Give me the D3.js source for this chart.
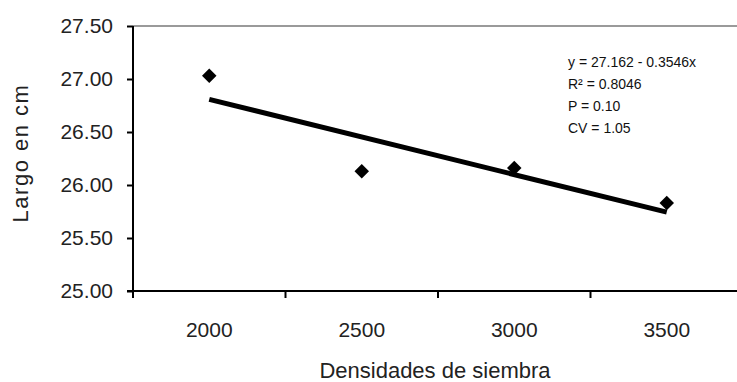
<!DOCTYPE html>
<html>
<head>
<meta charset="utf-8">
<script src="https://cdn.jsdelivr.net/npm/d3@7"></script>
<style>
  html, body { margin: 0; padding: 0; background: #fff; }
  svg { display: block; font-family: "Liberation Sans", Arial, sans-serif; }
</style>
</head>
<body>
<svg id="chart" width="737" height="382"></svg>
<script>
// Planting density categories and measured length (cm)
const densidades = ["2000", "2500", "3000", "3500"];
const largo = [27.03, 26.13, 26.16, 25.83];

// Linear trend: y = a + b·x, with x = 1..4 (category index)
const trendIntercept = 27.162;
const trendSlope = -0.3546;

const yTicks = [25.0, 25.5, 26.0, 26.5, 27.0, 27.5];
const statLines = ["y = 27.162 - 0.3546x", "R² = 0.8046", "P = 0.10", "CV = 1.05"];

const svg = d3.select("#chart");

const x = d3.scaleBand().domain(densidades).range([133, 743]).padding(0);
const y = d3.scaleLinear().domain([25, 27.5]).range([291, 26]);
const cx = d => x(d) + x.bandwidth() / 2;

// Plot area top border
svg.append("line")
  .attr("x1", 133).attr("x2", 737)
  .attr("y1", y(27.5)).attr("y2", y(27.5))
  .attr("stroke", "#9a9a9a").attr("stroke-width", 2);

// Y axis
const yAxis = svg.append("g")
  .attr("transform", "translate(133,0)")
  .call(d3.axisLeft(y).tickValues(yTicks).tickFormat(d3.format(".2f")).tickSize(6).tickPadding(14));
yAxis.select(".domain").attr("stroke", "#000").attr("stroke-width", 2).attr("d", `M0,${y(27.5)}V${y(25) + 7}`);
yAxis.selectAll(".tick line").attr("stroke", "#000").attr("stroke-width", 2);
yAxis.selectAll(".tick text").attr("font-size", 21).attr("fill", "#222")
  .attr("font-family", "Liberation Sans, Arial, sans-serif");

// X axis: labels centred in bands, tick marks at band boundaries
const xAxis = svg.append("g")
  .attr("transform", `translate(0,${y(25)})`)
  .call(d3.axisBottom(x).tickSize(0).tickPadding(31));
xAxis.select(".domain").attr("stroke", "#000").attr("stroke-width", 2).attr("d", "M127,0H737");
xAxis.selectAll(".tick text").attr("font-size", 21).attr("fill", "#222")
  .attr("font-family", "Liberation Sans, Arial, sans-serif");
xAxis.selectAll("line.sep")
  .data(densidades.slice(1))
  .join("line")
  .attr("class", "sep")
  .attr("x1", d => x(d)).attr("x2", d => x(d))
  .attr("y1", 0).attr("y2", 7)
  .attr("stroke", "#000").attr("stroke-width", 2);

// Trend line
const trendPts = densidades.map((d, i) => [cx(d), y(trendIntercept + trendSlope * (i + 1))]);
svg.append("path")
  .attr("d", d3.line()([trendPts[0], trendPts[trendPts.length - 1]]))
  .attr("stroke", "#000").attr("stroke-width", 5).attr("fill", "none");

// Observed values as diamonds
svg.selectAll("path.pt")
  .data(densidades.map((d, i) => ({ d, v: largo[i] })))
  .join("path")
  .attr("class", "pt")
  .attr("d", d3.symbol(d3.symbolSquare, 105)())
  .attr("transform", p => `translate(${cx(p.d)},${y(p.v)}) rotate(45)`)
  .attr("fill", "#000");

// Axis titles
svg.append("text")
  .attr("x", 435).attr("y", 378)
  .attr("text-anchor", "middle")
  .attr("font-size", 22).attr("fill", "#222")
  .text("Densidades de siembra");

svg.append("text")
  .attr("transform", "translate(28,153) rotate(-90)")
  .attr("text-anchor", "middle")
  .attr("font-size", 22).attr("fill", "#222")
  .attr("letter-spacing", 1.5)
  .text("Largo en cm");

// Regression statistics
svg.append("g").selectAll("text")
  .data(statLines)
  .join("text")
  .attr("x", 568)
  .attr("y", (d, i) => 67 + i * 22)
  .attr("font-size", 14).attr("fill", "#111")
  .text(d => d);
</script>
</body>
</html>
